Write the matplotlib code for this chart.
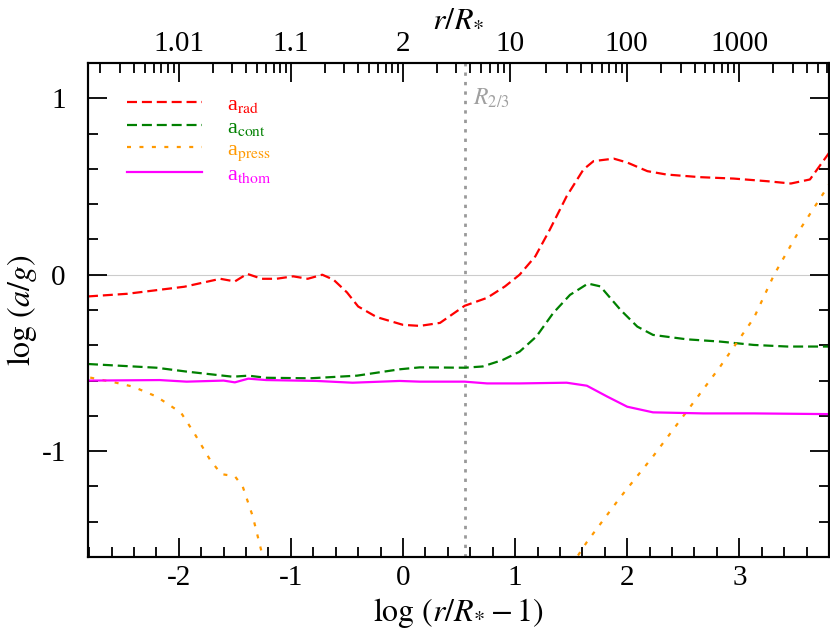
import numpy as np
import matplotlib
matplotlib.use("Agg")
import matplotlib.pyplot as plt

plt.rcParams['font.family'] = ['Liberation Serif', 'DejaVu Serif']
plt.rcParams['mathtext.fontset'] = 'stix'
plt.rcParams['axes.unicode_minus'] = False

# log(r/R* - 1) vs log(a/g)
rad_x = [-2.81, -2.46, -1.95, -1.63, -1.5, -1.39, -1.26, -1.13, -0.98, -0.85, -0.72, -0.62, -0.50,
         -0.40, -0.235, 0.0, 0.15, 0.33, 0.55, 0.75, 0.91, 1.04, 1.18, 1.31, 1.46, 1.61, 1.70, 1.88,
         2.0, 2.18, 2.35, 2.65, 2.95, 3.25, 3.46, 3.63, 3.80]
rad_y = [-0.123, -0.108, -0.068, -0.023, -0.038, 0.005, -0.023, -0.023, -0.009, -0.023, 0.0, -0.028, -0.10,
         -0.18, -0.24, -0.284, -0.29, -0.273, -0.176, -0.131, -0.066, 0.0, 0.104, 0.256, 0.445, 0.597, 0.644, 0.658,
         0.636, 0.587, 0.568, 0.553, 0.545, 0.530, 0.517, 0.54, 0.69]

cont_x = [-2.81, -2.2, -1.93, -1.52, -1.38, -1.22, -0.83, -0.41, -0.03, 0.15, 0.55, 0.71, 0.89, 1.04,
          1.19, 1.34, 1.49, 1.65, 1.76, 1.94, 2.09, 2.23, 2.53, 2.83, 3.13, 3.43, 3.80]
cont_y = [-0.506, -0.527, -0.549, -0.578, -0.572, -0.584, -0.587, -0.572, -0.536, -0.525, -0.527, -0.52, -0.483, -0.436,
          -0.35, -0.217, -0.114, -0.05, -0.066, -0.199, -0.294, -0.341, -0.366, -0.379, -0.398, -0.407, -0.407]

press_x = [-2.79, -2.56, -2.41, -2.2, -1.98, -1.86, -1.72, -1.62, -1.5, -1.43, -1.34, -1.25, -1.20, np.nan,
           1.50, 1.64, 1.94, 2.23, 2.53, 2.83, 3.13, 3.31, 3.54, 3.80]
press_y = [-0.583, -0.612, -0.634, -0.69, -0.782, -0.9, -1.05, -1.13, -1.142, -1.2, -1.37, -1.6, -1.75, np.nan,
           -1.65, -1.515, -1.26, -1.03, -0.776, -0.52, -0.245, 0.0, 0.256, 0.51]

thom_x = [-2.81, -2.17, -1.93, -1.6, -1.5, -1.38, -1.22, -0.77, -0.45, -0.03, 0.15, 0.55, 0.75, 1.04,
          1.46, 1.64, 1.82, 2.0, 2.23, 2.68, 3.13, 3.80]
thom_y = [-0.60, -0.597, -0.606, -0.60, -0.61, -0.589, -0.597, -0.602, -0.612, -0.602, -0.606, -0.606, -0.616, -0.616,
          -0.612, -0.629, -0.69, -0.748, -0.78, -0.786, -0.786, -0.79]

r23 = 0.55

# top axis: r/R*
top_major = [1.01, 1.1, 2, 10, 100, 1000]
top_labels = ['1.01', '1.1', '2', '10', '100', '1000']
top_minor = ([1 + k * 1e-3 for k in range(2, 10)] + [1 + k * 1e-2 for k in range(2, 10)]
             + [1 + k * 1e-1 for k in range(2, 10)] + list(range(3, 10))
             + list(range(20, 100, 10)) + list(range(200, 1000, 100)) + list(range(2000, 7000, 1000)))

fig = plt.figure(figsize=(8.3, 6.41), dpi=100)
ax = fig.add_axes([0.106, 0.131, 0.8928, 0.7707])

ax.axhline(0, color='#cccccc', lw=0.8, zorder=1)
ax.axvline(r23, color='#999999', lw=2, ls=(0, (1.2, 2.2)), zorder=1)
ax.text(r23 + 0.07, 1.0, r'$R_{2/3}$', color='#a0a0a0', fontsize=17, va='center', ha='left')

ax.plot(rad_x, rad_y, color='#ff0000', lw=1.6, dashes=(4.5, 2.2), label=r'a$_{\rm rad}$')
ax.plot(cont_x, cont_y, color='#008000', lw=1.6, dashes=(4.5, 2.2), label=r'a$_{\rm cont}$')
ax.plot(press_x, press_y, color='#ff9900', lw=1.6, dashes=(1.8, 3.8), label=r'a$_{\rm press}$')
ax.plot(thom_x, thom_y, color='#ff00ff', lw=1.6, label=r'a$_{\rm thom}$')

ax.set_xlim(-2.81, 3.80)
ax.set_ylim(-1.6, 1.2)
ax.set_xticks([-2, -1, 0, 1, 2, 3])
ax.set_xticks(np.arange(-2.8, 3.81, 0.2), minor=True)
ax.set_yticks([-1, 0, 1])
ax.set_yticklabels(['-1', '0', '1'])
ax.set_yticks(np.arange(-1.6, 1.21, 0.2), minor=True)
ax.set_xticklabels(['-2', '-1', '0', '1', '2', '3'])
ax.tick_params(which='both', direction='in', top=False, right=True, width=1.3, labelsize=21)
ax.tick_params(which='major', length=14)
ax.tick_params(which='minor', length=7)
ax.tick_params(axis='x', pad=6)
ax.tick_params(axis='y', pad=16)
for s in ax.spines.values():
    s.set_linewidth(1.5)

ax.set_xlabel(r'$\log\,(r/R_{*}-1)$', fontsize=23, labelpad=3)
ax.set_ylabel(r'$\log\,(a/g)$', fontsize=23, labelpad=2)

leg = ax.legend(loc='upper left', frameon=False, fontsize=16, handlelength=3.4,
                handletextpad=1.1, labelspacing=0.08, borderaxespad=0.8,
                bbox_to_anchor=(0.016, 0.99), labelcolor='linecolor')

ax2 = ax.twiny()
ax2.set_xlim(ax.get_xlim())
ax2.set_xticks(np.log10(np.array(top_major) - 1))
ax2.set_xticklabels(top_labels)
ax2.set_xticks(np.log10(np.array(top_minor, dtype=float) - 1), minor=True)
ax2.tick_params(which='both', direction='in', width=1.3, labelsize=21, pad=4)
ax2.tick_params(which='major', length=14)
ax2.tick_params(which='minor', length=7)
ax2.set_xlabel(r'$r/R_{*}$', fontsize=23, labelpad=4)
for s in ax2.spines.values():
    s.set_linewidth(1.5)

fig.savefig('out.png', dpi=100)
